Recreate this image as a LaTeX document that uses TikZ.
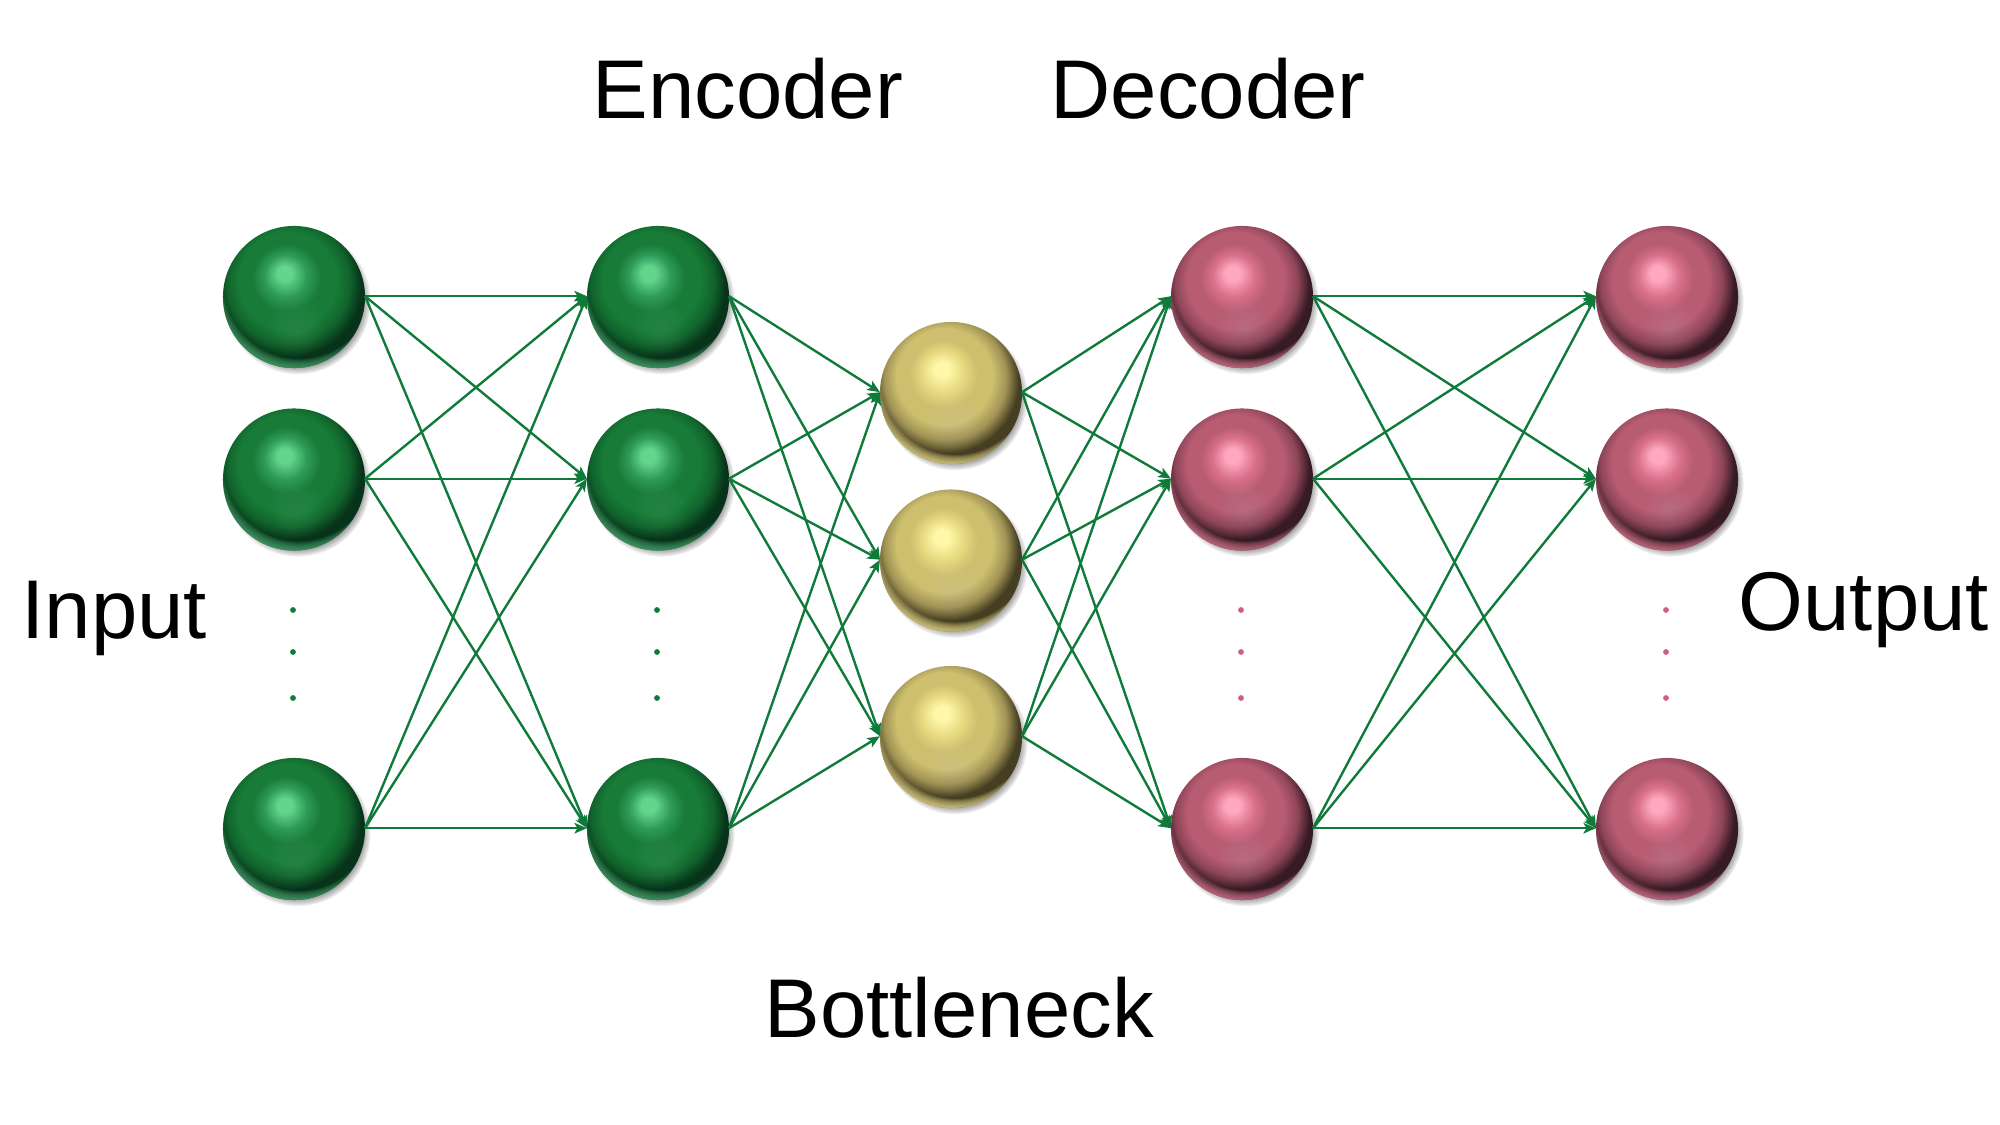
\documentclass[tikz,border=0pt]{standalone}
\usepackage{fontspec}
\setmainfont{Liberation Sans}
\usetikzlibrary{arrows.meta,fadings,shadows}
\definecolor{linkgreen}{HTML}{0F7A3A}
\definecolor{dotpink}{HTML}{D0607A}
% sphere colour ramps: highlight, near, body, shade, dark, rim
\newcommand{\declareball}[7]{%
  \definecolor{#1a}{HTML}{#2}\definecolor{#1b}{HTML}{#3}\definecolor{#1c}{HTML}{#4}%
  \definecolor{#1d}{HTML}{#5}\definecolor{#1e}{HTML}{#6}\definecolor{#1f}{HTML}{#7}%
  \pgfdeclareradialshading{#1}{\pgfpoint{-3.5bp}{8.75bp}}{%
    color(0bp)=(#1a);color(2.5bp)=(#1a);color(7.5bp)=(#1b);color(12bp)=(#1c);
    color(17bp)=(#1c);color(21.5bp)=(#1d);color(25.5bp)=(#1e);color(50bp)=(#1e)}}
\declareball{greenball}{63D68C}{2F9A58}{187C38}{11642C}{07331A}{4CA870}
\declareball{goldball}{FFF8A8}{E6D980}{CDBF6E}{A09254}{463E22}{E8DC8C}
\declareball{roseball}{FFA8C0}{D87088}{B85C72}{8E4558}{361A24}{D87890}
\tikzset{
  ball/.style={circle,minimum size=1.42cm,inner sep=0pt,outer sep=0pt,
    circular drop shadow={shadow xshift=0.035cm,shadow yshift=-0.04cm,
      shadow scale=1.03,opacity=.5,fill=black},
    path picture={
      % soft lit patch in the lower half
      \foreach \k in {1,...,14}{
        \fill[white,opacity=.009]
          ([xshift=0.03cm,yshift=-0.31cm]path picture bounding box.center)
          circle ({0.02*\k*1cm});
      }
      % reflected light along the bottom edge
      \foreach \k in {0,...,9}{
        \fill[#1f,opacity=.15,even odd rule]
          (path picture bounding box.center) circle (1cm)
          ([xshift=0.05cm,yshift=0.14cm]path picture bounding box.center)
          circle ({(0.76+0.0105*\k)*1cm});
      }
    }},
  link/.style={draw=linkgreen,line width=0.68pt,-{Stealth[length=0.125cm,width=0.105cm,inset=0.03cm]}},
  tiny/.style={circle,minimum size=0.058cm,inner sep=0pt,fill=#1},
  caption/.style={anchor=base west,inner sep=0pt,font=\fontsize{23.7pt}{28pt}\selectfont},
}
\begin{document}
\begin{tikzpicture}[x=0.01cm,y=-0.01cm]
\useasboundingbox (0,0) rectangle (2000,1125);

% input and encoder layers
\foreach \c/\x in {a/294,b/658}{
  \foreach \r/\y in {1/297,2/479.5,3/829}{
    \node[ball=greenball,shading=greenball] (\c\r) at (\x,\y) {};
  }
  \foreach \d/\y in {1/610,2/652,3/698}{
    \node[tiny=linkgreen] (\c d\d) at (\x-1,\y) {};
  }
}
% bottleneck layer
\foreach \r/\y in {1/393,2/560.5,3/737}{
  \node[ball=goldball,shading=goldball] (c\r) at (951,\y) {};
}
% decoder and output layers
\foreach \c/\x in {d/1242,e/1667}{
  \foreach \r/\y in {1/297,2/479.5,3/829}{
    \node[ball=roseball,shading=roseball] (\c\r) at (\x,\y) {};
  }
  \foreach \d/\y in {1/610,2/652,3/698}{
    \node[tiny=dotpink] (\c d\d) at (\x-1,\y) {};
  }
}
% full connections between neighbouring layers
\foreach \s/\t in {a/b,b/c,c/d,d/e}{
  \foreach \i in {1,2,3}{
    \foreach \j in {1,2,3}{
      \draw[link] ([yshift=0.008cm]\s\i.east) -- ([yshift=0.008cm]\t\j.west);
    }
  }
}
\node[caption] (encoder) at (592,119) {Encoder};
\node[caption] (decoder) at (1050,119) {Decoder};
\node[caption] (input) at (21,638.5) {Input};
\node[caption] (output) at (1738,631) {Output};
\node[caption] (bottleneck) at (764,1037) {Bottleneck};
\end{tikzpicture}
\end{document}
